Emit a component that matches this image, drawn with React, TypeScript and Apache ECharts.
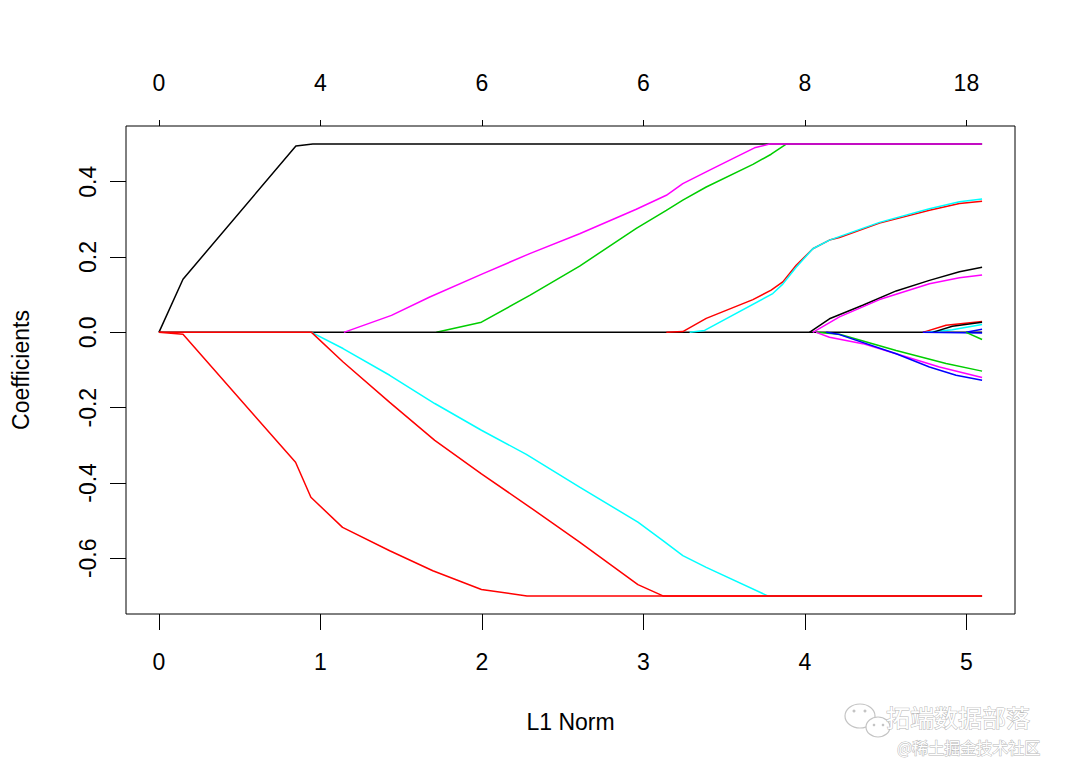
import React, { useEffect, useRef } from "react";
import * as echarts from "echarts";

type P = [number, number];

const L1END = 5.097;

// x tick positions and labels
const l1Ticks = [0, 1, 2, 3, 4, 5];
const dfLabels = ["0", "4", "6", "6", "8", "18"];
const coefTicks = [-0.6, -0.4, -0.2, 0, 0.2, 0.4];

// coefficient paths [L1 norm, coefficient]
const zeroLine: P[] = [[0, 0], [L1END, 0]];
const blackTop: P[] = [[0, 0], [0.149, 0.141], [0.848, 0.495], [0.953, 0.5], [L1END, 0.5]];
const redLow: P[] = [[0, 0], [0.149, -0.005], [0.749, -0.298], [0.846, -0.345], [0.941, -0.438], [1.137, -0.518], [1.429, -0.58], [1.696, -0.633], [1.997, -0.683], [2.279, -0.7], [L1END, -0.7]];
const redMid: P[] = [[0, 0], [0.945, 0], [1.139, -0.078], [1.429, -0.186], [1.708, -0.287], [1.997, -0.376], [2.296, -0.464], [2.605, -0.557], [2.966, -0.67], [3.121, -0.7], [L1END, -0.7]];
const cyanDown: P[] = [[0.945, 0], [1.14, -0.043], [1.429, -0.114], [1.708, -0.189], [1.997, -0.26], [2.275, -0.324], [2.605, -0.411], [2.966, -0.504], [3.121, -0.553], [3.244, -0.593], [3.389, -0.624], [3.77, -0.7], [L1END, -0.7]];
const magentaUp: P[] = [[1.145, 0], [1.44, 0.045], [1.677, 0.094], [2.007, 0.156], [2.296, 0.209], [2.605, 0.262], [2.956, 0.327], [3.142, 0.364], [3.244, 0.395], [3.41, 0.431], [3.575, 0.466], [3.688, 0.49], [3.781, 0.5], [L1END, 0.5]];
const greenUp: P[] = [[1.718, 0], [1.997, 0.027], [2.296, 0.098], [2.605, 0.176], [2.956, 0.276], [3.142, 0.324], [3.244, 0.351], [3.389, 0.386], [3.678, 0.446], [3.791, 0.473], [3.884, 0.5], [L1END, 0.5]];
const redRise: P[] = [[3.142, 0], [3.244, 0.002], [3.389, 0.037], [3.678, 0.087], [3.791, 0.112], [3.863, 0.134], [3.946, 0.178], [4.049, 0.222], [4.152, 0.245], [4.214, 0.252], [4.462, 0.29], [4.771, 0.324], [4.957, 0.342], [L1END, 0.348]];
const cyanRise: P[] = [[3.286, 0], [3.379, 0.005], [3.801, 0.103], [3.863, 0.128], [3.946, 0.173], [4.049, 0.222], [4.152, 0.245], [4.462, 0.292], [4.771, 0.328], [4.957, 0.347], [L1END, 0.354]];
const blackPos: P[] = [[4.028, 0], [4.152, 0.036], [4.358, 0.072], [4.565, 0.11], [4.771, 0.138], [4.957, 0.161], [L1END, 0.173]];
const magentaPos: P[] = [[4.049, 0], [4.214, 0.041], [4.462, 0.087], [4.771, 0.129], [4.957, 0.145], [L1END, 0.152]];
const greenNeg: P[] = [[4.07, 0], [4.214, -0.005], [4.565, -0.048], [4.874, -0.083], [L1END, -0.103]];
const magentaNeg: P[] = [[4.07, 0], [4.152, -0.013], [4.358, -0.03], [4.565, -0.057], [4.833, -0.092], [L1END, -0.12]];
const blueNeg: P[] = [[4.132, 0], [4.214, -0.006], [4.565, -0.057], [4.771, -0.092], [4.936, -0.114], [L1END, -0.127]];
const redSmall: P[] = [[4.73, 0], [4.874, 0.019], [L1END, 0.029]];
const cyanSmall: P[] = [[4.751, 0], [4.913, 0.007], [L1END, 0.021]];
const blackSmall: P[] = [[4.79, 0], [4.913, 0.016], [L1END, 0.027]];
const blueFlat: P[] = [[4.73, 0], [L1END, -0.002]];
const blueSmall: P[] = [[4.998, 0], [L1END, 0.008]];
const greenSmall: P[] = [[4.998, 0], [L1END, -0.019]];

const BLACK = "#000000";
const RED = "#FF0000";
const GREEN = "#00CD00";
const BLUE = "#0000FF";
const CYAN = "#00FFFF";
const MAGENTA = "#FF00FF";

const paths: { data: P[]; color: string }[] = [
  { data: greenUp, color: GREEN },
  { data: zeroLine, color: BLACK },
  { data: blackTop, color: BLACK },
  { data: magentaUp, color: MAGENTA },
  { data: redRise, color: RED },
  { data: cyanRise, color: CYAN },
  { data: blackPos, color: BLACK },
  { data: magentaPos, color: MAGENTA },
  { data: greenNeg, color: GREEN },
  { data: magentaNeg, color: MAGENTA },
  { data: blueNeg, color: BLUE },
  { data: redSmall, color: RED },
  { data: cyanSmall, color: CYAN },
  { data: blackSmall, color: BLACK },
  { data: blueFlat, color: BLUE },
  { data: blueSmall, color: BLUE },
  { data: greenSmall, color: GREEN },
  { data: cyanDown, color: CYAN },
  { data: redMid, color: RED },
  { data: redLow, color: RED },
];

const FONT = "'Liberation Sans', Arial, Helvetica, sans-serif";

export default function App() {
  const ref = useRef<HTMLDivElement>(null);
  useEffect(() => {
    if (!ref.current) return;
    const chart = echarts.init(ref.current, undefined, { renderer: "svg" });
    const xMin = -0.2039;
    const xMax = L1END * 1.04;
    const yMin = -0.748;
    const yMax = 0.548;
    const wm = { fill: "#ffffff", stroke: "#b8b8b8", lineWidth: 1 };
    chart.setOption({
      animation: false,
      backgroundColor: "#ffffff",
      textStyle: { fontFamily: FONT },
      grid: {
        left: 126,
        top: 126,
        width: 889,
        height: 488,
        show: true,
        borderColor: "#000",
        borderWidth: 1,
        backgroundColor: "transparent",
        containLabel: false,
      },
      xAxis: [
        {
          type: "value",
          position: "bottom",
          min: xMin,
          max: xMax,
          name: "L1 Norm",
          nameLocation: "middle",
          nameGap: 96,
          nameTextStyle: { fontSize: 23, color: "#000", fontFamily: FONT },
          axisLine: { show: false, onZero: false },
          splitLine: { show: false },
          axisTick: { show: true, length: 16, lineStyle: { color: "#000", width: 1 }, customValues: l1Ticks },
          axisLabel: { fontSize: 23, color: "#000", margin: 36, fontFamily: FONT, customValues: l1Ticks, formatter: (v: number) => String(Math.round(v)) },
        },
        {
          type: "value",
          position: "top",
          min: xMin,
          max: xMax,
          axisLine: { show: false, onZero: false },
          splitLine: { show: false },
          axisTick: { show: true, length: 6, lineStyle: { color: "#000", width: 1 }, customValues: l1Ticks },
          axisLabel: {
            fontSize: 23,
            color: "#000",
            margin: 32,
            fontFamily: FONT,
            customValues: l1Ticks,
            formatter: (v: number) => dfLabels[Math.round(v)] ?? "",
          },
        },
      ],
      yAxis: {
        type: "value",
        min: yMin,
        max: yMax,
        name: "Coefficients",
        nameLocation: "middle",
        nameGap: 94,
        nameRotate: 90,
        nameTextStyle: { fontSize: 23, color: "#000", fontFamily: FONT },
        axisLine: { show: false, onZero: false },
        splitLine: { show: false },
        axisTick: { show: true, length: 16, lineStyle: { color: "#000", width: 1 }, customValues: coefTicks },
        axisLabel: {
          fontSize: 23,
          color: "#000",
          margin: 27,
          rotate: 90,
          fontFamily: FONT,
          customValues: coefTicks,
          formatter: (v: number) => (Math.abs(v) < 1e-9 ? "0.0" : v.toFixed(1)),
        },
      },
      series: paths.map((p) => ({
        type: "line",
        xAxisIndex: 0,
        data: p.data,
        showSymbol: false,
        symbol: "none",
        silent: true,
        clip: true,
        lineStyle: { color: p.color, width: 1.5 },
        emphasis: { disabled: true },
      })),
      graphic: [
        { type: "ellipse", shape: { cx: 860, cy: 716, rx: 15, ry: 12 }, style: { fill: "#fff", stroke: "#c4c4c4", lineWidth: 1.2 }, z: 100 },
        { type: "ellipse", shape: { cx: 878, cy: 727, rx: 12, ry: 10 }, style: { fill: "#fff", stroke: "#c4c4c4", lineWidth: 1.2 }, z: 101 },
        { type: "circle", shape: { cx: 854, cy: 711, r: 1.5 }, style: { fill: "#c4c4c4" }, z: 102 },
        { type: "circle", shape: { cx: 865, cy: 711, r: 1.5 }, style: { fill: "#c4c4c4" }, z: 102 },
        { type: "circle", shape: { cx: 874, cy: 725, r: 1.3 }, style: { fill: "#c4c4c4" }, z: 102 },
        { type: "circle", shape: { cx: 883, cy: 725, r: 1.3 }, style: { fill: "#c4c4c4" }, z: 102 },
        {
          type: "text",
          x: 886,
          y: 716,
          z: 103,
          style: { text: "拓端数据部落", font: "24px 'Noto Sans CJK SC'", ...wm, verticalAlign: "middle" },
        },
        {
          type: "text",
          x: 897,
          y: 747,
          z: 104,
          style: { text: "@稀土掘金技术社区", font: "16px 'Noto Sans CJK SC'", ...wm, verticalAlign: "middle" },
        },
      ],
    });
    return () => chart.dispose();
  }, []);
  return (
    <div
      ref={ref}
      style={{ position: "fixed", left: 0, top: 0, width: 1080, height: 771, background: "#fff" }}
    />
  );
}
